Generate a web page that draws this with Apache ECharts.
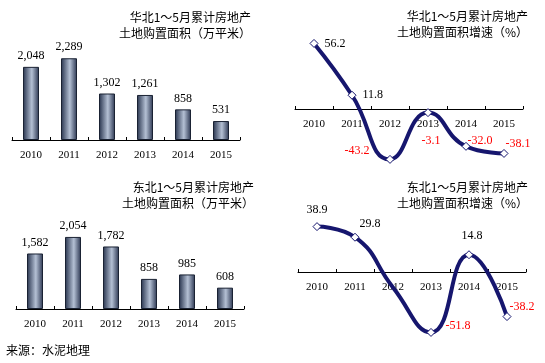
<!DOCTYPE html>
<html><head><meta charset="utf-8">
<script src="https://cdn.jsdelivr.net/npm/echarts@6/dist/echarts.min.js"></script>
<style>html,body{margin:0;padding:0;background:#fff}#c{width:545px;height:363px}</style>
</head><body><div id="c"></div>
<script>
const years = ['2010','2011','2012','2013','2014','2015'];
const hbArea = [2048, 2289, 1302, 1261, 858, 531];
const hbGrowth = [56.2, 11.8, -43.2, -3.1, -32.0, -38.1];
const dbArea = [1582, 2054, 1782, 858, 985, 608];
const dbGrowth = [38.9, 29.8, -13.2, -51.8, 14.8, -38.2];
const titles = [
  '华北1～5月累计房地产\n土地购置面积（万平米）',
  '华北1～5月累计房地产\n土地购置面积增速（%）',
  '东北1～5月累计房地产\n土地购置面积（万平米）',
  '东北1～5月累计房地产\n土地购置面积增速（%）'
];
const source = '来源：水泥地理';

const SERIF = '"Liberation Serif","Times New Roman",serif';
const CJK = '"Noto Sans CJK SC","Noto Sans",sans-serif';
const NAVY = '#16166e';

const barColor = {
  type:'linear', x:0, y:0, x2:1, y2:0,
  colorStops:[
    {offset:0, color:'#26324c'},
    {offset:0.55, color:'#b4c0d4'},
    {offset:1, color:'#2a3550'}
  ]
};

function fmt(v){ return v.toLocaleString('en-US'); }

const hbLabelPos = [
  ['right',6,[0,0]], ['right',6,[0,0]], ['left',16,[0,-9]],
  ['bottom',18,[3,0]], ['right',-3,[0,-5]], ['right',-3,[0,-10]]
];
const dbLabelPos = [
  ['top',6,[0,0]], ['right',0,[0,-13]], ['bottom',14,[-15,0]],
  ['right',10,[0,-7]], ['top',8,[3,0]], ['right',-2,[0,-10]]
];

function lineData(vals, pos, hideIdx){
  return vals.map((v,i)=>{
    const d = {value:v, label:{
      position:pos[i][0], distance:pos[i][1], offset:pos[i][2],
      color: v<0 ? '#ff0000' : '#000'
    }};
    if (hideIdx === i) d.symbol = 'none';
    return d;
  });
}

function catAxis(gi, off){
  return {
    type:'category', gridIndex:gi, data:years, offset:off||0,
    axisLine:{show:true, onZero:false, lineStyle:{color:'#000', width:1}},
    axisTick:{show:true, inside:true, length:3, lineStyle:{color:'#000'}},
    axisLabel:{color:'#000', fontFamily:SERIF, fontSize:11, margin:10},
    splitLine:{show:false}
  };
}
function valAxis(gi, min, max){
  return {type:'value', gridIndex:gi, min:min, max:max, show:false, splitLine:{show:false}};
}
function barSeries(i, vals){
  return {
    type:'bar', xAxisIndex:i, yAxisIndex:i, data:vals, barWidth:16,
    itemStyle:{color:barColor, borderColor:'#1a2233', borderWidth:1},
    label:{show:true, position:'top', distance:5, color:'#000', fontFamily:SERIF, fontSize:12,
      formatter:p=>fmt(p.value)},
    silent:true
  };
}
function lineSeries(i, data){
  return {
    type:'line', xAxisIndex:i, yAxisIndex:i, data:data, smooth:0.5,
    symbol:'diamond', symbolSize:8, showAllSymbol:true,
    lineStyle:{color:NAVY, width:4},
    itemStyle:{color:'#fff', borderColor:NAVY, borderWidth:1},
    label:{show:true, fontFamily:SERIF, fontSize:12, formatter:p=>p.value.toFixed(1)},
    z:3, silent:true
  };
}

const titlePos = [[251,9],[528,8],[254,179],[528,179]];

const chart = echarts.init(document.getElementById('c'), null, {renderer:'canvas'});
chart.setOption({
  backgroundColor:'#fff',
  animation:false,
  grid:[
    {left:12, top:40, width:228, height:100},
    {left:295, top:39, width:228, height:140},
    {left:16, top:209, width:228, height:100},
    {left:298, top:202, width:228, height:140}
  ],
  xAxis:[catAxis(0), catAxis(1,-70), catAxis(2), catAxis(3,-70)],
  yAxis:[valAxis(0,0,2800), valAxis(1,-60,60), valAxis(2,0,2850), valAxis(3,-60,60)],
  series:[
    barSeries(0, hbArea),
    lineSeries(1, lineData(hbGrowth, hbLabelPos)),
    barSeries(2, dbArea),
    lineSeries(3, lineData(dbGrowth, dbLabelPos, 2))
  ],
  graphic: titles.map((t,i)=>({
    type:'text', x:titlePos[i][0], y:titlePos[i][1],
    style:{text:t, align:'right', verticalAlign:'top', fill:'#000',
      font:'12px '+CJK, lineHeight:16}
  })).concat([{
    type:'text', x:6, y:342,
    style:{text:source, fill:'#000', font:'12px '+CJK, lineHeight:16}
  }])
});
</script></body></html>
